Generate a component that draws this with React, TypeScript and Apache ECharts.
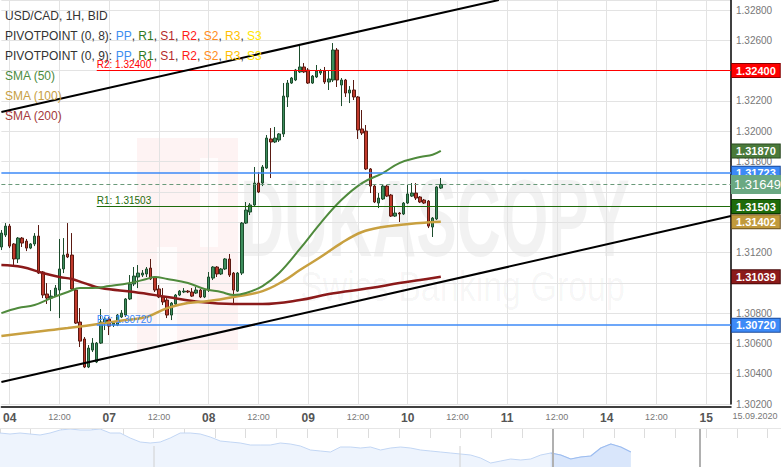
import React, { useEffect, useRef } from 'react';
import * as echarts from 'echarts';

const FONT = '"Liberation Sans", Arial, sans-serif';

// trading days shown on the axis (weekend skipped), hourly bars
const days = ['03', '04', '07', '08', '09', '10', '11', '14', '15'];
const lastDateLabel = '15.09.2020';

const categories: string[] = [];
for (const d of days) {
  const first = d === '03' ? 22 : 0;
  const last = d === '15' ? 6 : 23;
  for (let h = first; h <= last; h++) categories.push(d + ' ' + (h < 10 ? '0' : '') + h + ':00');
}
const lastIdx = categories.length - 1;

// [open, close, low, high]
const candles: number[][] = [
  [1.31236, 1.31328, 1.31216, 1.31348],
  [1.31315, 1.31374, 1.31302, 1.31394],
  [1.31374, 1.31242, 1.31229, 1.31388],
  [1.31256, 1.31157, 1.31117, 1.31262],
  [1.31157, 1.31295, 1.31130, 1.31302],
  [1.31295, 1.31262, 1.31236, 1.31302],
  [1.31275, 1.31229, 1.31209, 1.31289],
  [1.31229, 1.31256, 1.31222, 1.31262],
  [1.31256, 1.31308, 1.31242, 1.31328],
  [1.31308, 1.31064, 1.31058, 1.31381],
  [1.31071, 1.30919, 1.30899, 1.31077],
  [1.30926, 1.30899, 1.30860, 1.30998],
  [1.30899, 1.30912, 1.30813, 1.30952],
  [1.30912, 1.30965, 1.30906, 1.30985],
  [1.30952, 1.31091, 1.30767, 1.31289],
  [1.31091, 1.31183, 1.31064, 1.31295],
  [1.31190, 1.31170, 1.31163, 1.31394],
  [1.31183, 1.30959, 1.30952, 1.31328],
  [1.30952, 1.30734, 1.30728, 1.30959],
  [1.30741, 1.30615, 1.30576, 1.30833],
  [1.30629, 1.30444, 1.30437, 1.30642],
  [1.30444, 1.30569, 1.30437, 1.30589],
  [1.30556, 1.30602, 1.30543, 1.30635],
  [1.30477, 1.30602, 1.30470, 1.30609],
  [1.30602, 1.30741, 1.30596, 1.30827],
  [1.30734, 1.30761, 1.30688, 1.30774],
  [1.30761, 1.30714, 1.30655, 1.30774],
  [1.30721, 1.30734, 1.30708, 1.30747],
  [1.30721, 1.30787, 1.30714, 1.30794],
  [1.30774, 1.30800, 1.30767, 1.30820],
  [1.30787, 1.30893, 1.30774, 1.30899],
  [1.30893, 1.30992, 1.30886, 1.31051],
  [1.30992, 1.31044, 1.30978, 1.31104],
  [1.31038, 1.31064, 1.30965, 1.31117],
  [1.31051, 1.31064, 1.31038, 1.31084],
  [1.31058, 1.31091, 1.31038, 1.31104],
  [1.31097, 1.31025, 1.31018, 1.31157],
  [1.31038, 1.30952, 1.30939, 1.31044],
  [1.30959, 1.30906, 1.30899, 1.30985],
  [1.30906, 1.30873, 1.30853, 1.30965],
  [1.30886, 1.30787, 1.30767, 1.30899],
  [1.30787, 1.30866, 1.30754, 1.30873],
  [1.30860, 1.30919, 1.30853, 1.30926],
  [1.30919, 1.30945, 1.30912, 1.30952],
  [1.30939, 1.30945, 1.30932, 1.30965],
  [1.30945, 1.30939, 1.30932, 1.30952],
  [1.30939, 1.30912, 1.30906, 1.30965],
  [1.30932, 1.30952, 1.30926, 1.30972],
  [1.30952, 1.30906, 1.30899, 1.30959],
  [1.30906, 1.30952, 1.30899, 1.30965],
  [1.30952, 1.31038, 1.30939, 1.31071],
  [1.31031, 1.31104, 1.31018, 1.31110],
  [1.31104, 1.31058, 1.31038, 1.31110],
  [1.31058, 1.31091, 1.31051, 1.31097],
  [1.31091, 1.31157, 1.31084, 1.31163],
  [1.31157, 1.31051, 1.31038, 1.31190],
  [1.31064, 1.30952, 1.30860, 1.31071],
  [1.30945, 1.31064, 1.30939, 1.31071],
  [1.31064, 1.31394, 1.31051, 1.31401],
  [1.31394, 1.31480, 1.31388, 1.31533],
  [1.31467, 1.31513, 1.31447, 1.31526],
  [1.31513, 1.31658, 1.31506, 1.31764],
  [1.31658, 1.31599, 1.31592, 1.31731],
  [1.31658, 1.31764, 1.31638, 1.31777],
  [1.31757, 1.31955, 1.31751, 1.31975],
  [1.31949, 1.31929, 1.31691, 1.32021],
  [1.31929, 1.31955, 1.31922, 1.32028],
  [1.31942, 1.31982, 1.31929, 1.31988],
  [1.31982, 1.32232, 1.31962, 1.32318],
  [1.32226, 1.32318, 1.32160, 1.32338],
  [1.32318, 1.32351, 1.32312, 1.32358],
  [1.32338, 1.32404, 1.32331, 1.32411],
  [1.32391, 1.32424, 1.32384, 1.32569],
  [1.32424, 1.32391, 1.32384, 1.32450],
  [1.32404, 1.32318, 1.32312, 1.32417],
  [1.32318, 1.32364, 1.32312, 1.32371],
  [1.32358, 1.32397, 1.32351, 1.32437],
  [1.32384, 1.32397, 1.32371, 1.32411],
  [1.32397, 1.32325, 1.32312, 1.32424],
  [1.32325, 1.32345, 1.32272, 1.32404],
  [1.32338, 1.32536, 1.32325, 1.32582],
  [1.32536, 1.32338, 1.32292, 1.32549],
  [1.32305, 1.32338, 1.32166, 1.32351],
  [1.32338, 1.32252, 1.32226, 1.32345],
  [1.32252, 1.32272, 1.32186, 1.32298],
  [1.32272, 1.32226, 1.32206, 1.32338],
  [1.32226, 1.32008, 1.31949, 1.32232],
  [1.32015, 1.31988, 1.31975, 1.32140],
  [1.32001, 1.31751, 1.31744, 1.32041],
  [1.31751, 1.31638, 1.31592, 1.31757],
  [1.31638, 1.31533, 1.31526, 1.31645],
  [1.31526, 1.31559, 1.31493, 1.31592],
  [1.31553, 1.31638, 1.31546, 1.31645],
  [1.31638, 1.31572, 1.31566, 1.31645],
  [1.31579, 1.31440, 1.31434, 1.31586],
  [1.31440, 1.31460, 1.31434, 1.31500],
  [1.31460, 1.31454, 1.31401, 1.31467],
  [1.31454, 1.31526, 1.31447, 1.31533],
  [1.31526, 1.31586, 1.31520, 1.31645],
  [1.31572, 1.31592, 1.31566, 1.31658],
  [1.31592, 1.31559, 1.31546, 1.31658],
  [1.31566, 1.31533, 1.31526, 1.31572],
  [1.31546, 1.31526, 1.31520, 1.31553],
  [1.31539, 1.31374, 1.31361, 1.31546],
  [1.31368, 1.31427, 1.31302, 1.31434],
  [1.31421, 1.31632, 1.31414, 1.31638],
  [1.31625, 1.31649, 1.31619, 1.31691],
];

// moving averages: [bar index, value]
const sma50 = [
  [0, 1.308], [4, 1.30833], [8, 1.30853], [12, 1.30899], [16, 1.30939], [19, 1.30965], [22, 1.30965],
  [26, 1.30978], [31, 1.30998], [35, 1.31025], [37, 1.31038], [40, 1.31025], [45, 1.30998], [49, 1.30959],
  [53, 1.30939], [56, 1.30919], [59, 1.30932], [63, 1.30978], [67, 1.31064], [72, 1.31223], [77, 1.31394],
  [82, 1.31546], [87, 1.31658], [92, 1.31724], [96, 1.3179], [101, 1.3183], [104, 1.31845], [106, 1.3187],
];
const sma100 = [
  [0, 1.30648], [8, 1.30675], [16, 1.30701], [25, 1.30734], [30, 1.30754], [35, 1.30774], [40, 1.30833],
  [45, 1.30866], [50, 1.30879], [56, 1.30906], [63, 1.30945], [68, 1.31011], [72, 1.31084], [77, 1.3117],
  [82, 1.31262], [87, 1.31335], [92, 1.31368], [96, 1.31381], [101, 1.31394], [106, 1.31402],
];
const sma200 = [
  [0, 1.31117], [5, 1.31104], [10, 1.31064], [14, 1.31038], [17, 1.31025], [20, 1.30998], [24, 1.30965],
  [32, 1.30939], [40, 1.30906], [48, 1.30873], [56, 1.3086], [63, 1.3086], [72, 1.30886], [79, 1.30926],
  [89, 1.30965], [96, 1.30998], [101, 1.31018], [106, 1.31039],
];

// levels
const pivotStartIdx = 23;
const pivotR2 = 1.324;
const pivotR1 = 1.31503;
const pivotPP = 1.3072;
const blueLevel = 1.31723;
const lastPrice = 1.31649;
const sma50Last = 1.3187;
const sma100Last = 1.31402;
const sma200Last = 1.31039;

// trend lines: [bar index, price]
const upperTrend = [[0, 1.32127], [120, 1.32866]];
const lowerTrend = [[0, 1.30345], [176, 1.3144]];

// y axis
const yMin = 1.302;
const yMax = 1.32866;
const yStep = 0.002;
// tick labels hidden behind the price boxes
const coveredTicks = ['1.32400', '1.31600', '1.31400', '1.31000'];

// navigator (overview) levels, relative height
const navLevels = [
  34, 33, 34, 33, 32, 34, 37, 38, 37, 37, 38, 34, 34, 29, 25, 24, 25, 29, 34, 34, 33, 30, 26, 25, 24, 22,
  22, 22, 24, 23, 21, 17, 16, 15, 20, 20, 19, 20, 17, 19, 20, 19, 17, 16, 15, 14, 13, 12, 9, 4, 6, 8, 7,
  8, 12, 14, 12, 8, 10, 11, 19, 23, 20, 15,
];
const navSlots = 79;
const navSelectedFrom = 55;

const BLUE = '#3d8af7';

const boxLabel = (v: number, bg: string, border: string, big = false) => ({
  show: true,
  position: 'end',
  distance: 1,
  formatter: v.toFixed(5),
  backgroundColor: bg,
  borderColor: border,
  borderWidth: 1,
  color: '#fff',
  fontSize: big ? 13 : 11,
  fontWeight: big ? 'normal' : 'bold',
  fontFamily: FONT,
  padding: big ? [2, 1, 1, 2] : [1, 4, 0, 4],
  lineHeight: big ? 14 : 12,
});

// a price box on the axis (the level line itself is drawn by the levels series)
const boxOnly = (v: number, bg: string, border: string, big = false) => ({
  yAxis: v,
  lineStyle: { color: bg, width: 0, opacity: 1 },
  label: boxLabel(v, bg, border, big),
});

const pivotLine = (v: number, color: string, text: string, width = 1) => [
  {
    coord: [pivotStartIdx, v],
    lineStyle: { color, width, type: 'solid', opacity: 1 },
    label: { show: true, position: 'insideStartTop', formatter: text, color, fontSize: 10, fontFamily: FONT, distance: [0, 1] },
  },
  { coord: [lastIdx, v], lineStyle: { color, width, type: 'solid', opacity: 1 } },
];

const fullLevel = (v: number, color: string, type: any = 'solid', width = 1) => ({
  yAxis: v,
  lineStyle: { color, width, type, opacity: 1 },
  label: { show: false },
});

const trend = (pts: number[][]) => [
  { coord: pts[0], lineStyle: { color: '#000', width: 2, type: 'solid' }, label: { show: false } },
  { coord: pts[1], lineStyle: { color: '#000', width: 2, type: 'solid' } },
];

const legendRich = {
  k: { fill: '#333', color: '#333', fontSize: 12, fontFamily: FONT },
  pp: { fill: '#3d8ef0', color: '#3d8ef0', fontSize: 12, fontFamily: FONT },
  r1: { fill: '#2f7a1f', color: '#2f7a1f', fontSize: 12, fontFamily: FONT },
  s1: { fill: '#b52a2a', color: '#b52a2a', fontSize: 12, fontFamily: FONT },
  r2: { fill: '#ff1a1a', color: '#ff1a1a', fontSize: 12, fontFamily: FONT },
  s2: { fill: '#ff8c1a', color: '#ff8c1a', fontSize: 12, fontFamily: FONT },
  r3: { fill: '#ffbf00', color: '#ffbf00', fontSize: 12, fontFamily: FONT },
  s3: { fill: '#ffe600', color: '#ffe600', fontSize: 12, fontFamily: FONT },
};
const pivotText = (n: string) =>
  `{k|PIVOTPOINT (0, ${n}): }{pp|PP}{k|, }{r1|R1}{k|, }{s1|S1}{k|, }{r2|R2}{k|, }{s2|S2}{k|, }{r3|R3}{k|, }{s3|S3}`;

const legendText = (y: number, text: string, fill = '#333', rich?: any) => ({
  type: 'text',
  z: 100,
  style: { x: 5, y, text, fill, fontSize: 12, fontFamily: FONT, verticalAlign: 'middle', rich },
});

const isMajorTick = (i: number) => {
  const h = categories[i].slice(3, 5);
  return h === '00' || h === '12';
};

function buildOption(): any {
  const navCats: string[] = [];
  for (let i = 0; i < navSlots; i++) navCats.push(String(i));
  const navSelected = navLevels.map((v, i) => (i >= navSelectedFrom ? v : null));

  return {
    animation: false,
    backgroundColor: '#fff',
    grid: [
      { left: 0, right: 50, top: 0, bottom: 63 },
      { left: 0, right: 0, top: 429, bottom: 0 },
    ],
    xAxis: [
      {
        type: 'category',
        gridIndex: 0,
        data: categories,
        boundaryGap: false,
        offset: 3,
        axisLine: { lineStyle: { color: '#000', width: 1.5 } },
        axisTick: { show: false },
        axisLabel: {
          interval: (i: number) => isMajorTick(i),
          margin: 5,
          formatter: (v: string) => {
            const d = v.slice(0, 2);
            const h = v.slice(3);
            return h === '00:00' ? `{d|${d}}` : `{h|${h}}`;
          },
          rich: {
            d: { fontSize: 12, fontWeight: 'bold', color: '#555', fontFamily: FONT },
            h: { fontSize: 9, color: '#777', fontFamily: FONT },
          },
        },
        splitLine: { show: true, interval: (i: number) => isMajorTick(i), lineStyle: { color: '#e3e3e3', width: 1 } },
      },
      {
        type: 'category',
        gridIndex: 1,
        data: navCats,
        boundaryGap: false,
        show: false,
      },
      {
        type: 'value',
        gridIndex: 1,
        min: 0,
        max: 25.44,
        interval: 1,
        axisLine: { show: false },
        axisLabel: { show: false },
        splitLine: { show: false },
        axisTick: { show: true, inside: true, length: 9, lineStyle: { color: '#dcdcdc' } },
      },
    ],
    yAxis: [
      {
        type: 'value',
        gridIndex: 0,
        position: 'right',
        min: yMin,
        max: yMax,
        interval: yStep,
        axisLine: { show: true, lineStyle: { color: '#000', width: 1.5 } },
        axisTick: { show: false },
        axisLabel: {
          color: '#777',
          fontSize: 10,
          fontFamily: FONT,
          margin: 5,
          showMaxLabel: false,
          formatter: (v: number) => {
            const s = v.toFixed(5);
            return coveredTicks.indexOf(s) >= 0 || v > 1.3285 ? '' : s;
          },
        },
        splitLine: { show: true, lineStyle: { color: '#e3e3e3', width: 1 } },
      },
      { type: 'value', gridIndex: 1, min: 0, max: 38, show: false },
    ],
    graphic: [
      // watermark
      { type: 'rect', z: -5, shape: { x: 137, y: 138, width: 101, height: 212 }, style: { fill: 'rgba(235,90,90,0.07)' } },
      { type: 'rect', z: -4, shape: { x: 157, y: 247, width: 20, height: 103 }, style: { fill: 'rgba(255,255,255,0.75)' } },
      { type: 'rect', z: -4, shape: { x: 200, y: 158, width: 18, height: 89 }, style: { fill: 'rgba(255,255,255,0.75)' } },
      {
        type: 'text', z: -3, x: 240, y: 163, scaleY: 1.8,
        style: { x: 0, y: 0, text: 'DUKASCOPY', fill: 'rgba(0,0,0,0.05)', fontSize: 61, fontWeight: 'bold', fontFamily: FONT, verticalAlign: 'top' },
      },
      {
        type: 'text', z: -3, x: 300, y: 265, scaleY: 1.25,
        style: { x: 0, y: 0, text: 'Swiss Banking Group', fill: 'rgba(0,0,0,0.045)', fontSize: 34, fontFamily: FONT, verticalAlign: 'top' },
      },
      // legend
      legendText(16, 'USD/CAD, 1H, BID'),
      legendText(36, pivotText('8'), '#333', legendRich),
      legendText(56, pivotText('9'), '#333', legendRich),
      legendText(76, 'SMA (50)', '#4c8b3e'),
      legendText(96, 'SMA (100)', '#c8a045'),
      legendText(116, 'SMA (200)', '#a33a3a'),
      // bottom date
      {
        type: 'text', z: 50,
        style: { x: 755, y: 416, text: lastDateLabel, fill: '#777', fontSize: 9, fontFamily: FONT, align: 'center', verticalAlign: 'middle' },
      },
      // navigator frame
      { type: 'line', z: 50, shape: { x1: 0, y1: 428.5, x2: 781, y2: 428.5 }, style: { stroke: '#e6e6e6', lineWidth: 1 } },
      { type: 'line', z: 50, shape: { x1: 154, y1: 446, x2: 154, y2: 467 }, style: { stroke: '#d0d0d0', lineWidth: 1 } },
      { type: 'line', z: 50, shape: { x1: 460, y1: 446, x2: 460, y2: 467 }, style: { stroke: '#d0d0d0', lineWidth: 1 } },
      { type: 'line', z: 50, shape: { x1: 553, y1: 429, x2: 553, y2: 467 }, style: { stroke: '#b0b0b0', lineWidth: 2 } },
      { type: 'line', z: 50, shape: { x1: 700, y1: 429, x2: 700, y2: 467 }, style: { stroke: '#b0b0b0', lineWidth: 2 } },
    ],
    series: [
      {
        // level lines, carried by a plain (invisible) line series drawn under the candles
        type: 'line',
        xAxisIndex: 0,
        yAxisIndex: 0,
        data: sma200,
        showSymbol: false,
        lineStyle: { width: 0, opacity: 0 },
        itemStyle: { color: BLUE },
        z: 2,
        silent: true,
        markLine: {
          silent: true,
          symbol: ['none', 'none'],
          animation: false,
          precision: 5,
          label: { show: false },
          data: [
            pivotLine(pivotR2, '#ff0000', 'R2: 1.32400'),
            pivotLine(pivotR1, '#1e6b0a', 'R1: 1.31503'),
            pivotLine(pivotPP, BLUE, 'PP: 1.30720', 1.5),
            fullLevel(blueLevel, BLUE, 'solid', 1.5),
            fullLevel(lastPrice, '#6a9a7a', [4, 3]),
          ],
        },
      },
      {
        type: 'candlestick',
        xAxisIndex: 0,
        yAxisIndex: 0,
        data: candles,
        barWidth: 3,
        z: 3,
        itemStyle: {
          color: '#3c8d5c',
          color0: '#c0392b',
          borderColor: '#1d4d2d',
          borderColor0: '#5a1a12',
          borderWidth: 1,
        },
        markLine: {
          silent: true,
          symbol: ['none', 'none'],
          animation: false,
          precision: 5,
          label: { show: false },
          data: [
            trend(upperTrend),
            trend(lowerTrend),
            boxOnly(pivotR2, '#ff0000', '#8a0000'),
            boxOnly(sma50Last, '#4a7a3a', '#2a4a20'),
            boxOnly(blueLevel, BLUE, '#1a4a9a'),
            boxOnly(lastPrice, '#6aa882', '#6aa882', true),
            boxOnly(pivotR1, '#1e6b0a', '#0a3a00'),
            boxOnly(sma100Last, '#c19a3c', '#6a5020'),
            boxOnly(sma200Last, '#8b1a1a', '#4a0a0a'),
            boxOnly(pivotPP, BLUE, '#1a4a9a'),
          ],
        },
      },
      {
        type: 'line', xAxisIndex: 0, yAxisIndex: 0, data: sma200, showSymbol: false, smooth: 0.4, z: 4,
        lineStyle: { color: '#8b1a1a', width: 2.5 },
      },
      {
        type: 'line', xAxisIndex: 0, yAxisIndex: 0, data: sma100, showSymbol: false, smooth: 0.4, z: 4,
        lineStyle: { color: '#c8a040', width: 2.5 },
      },
      {
        type: 'line', xAxisIndex: 0, yAxisIndex: 0, data: sma50, showSymbol: false, smooth: 0.4, z: 4,
        lineStyle: { color: '#4f8a3c', width: 2 },
      },
      {
        type: 'line', xAxisIndex: 1, yAxisIndex: 1, data: navLevels, showSymbol: false, z: 2,
        lineStyle: { color: '#c2d6f4', width: 1 },
        areaStyle: { color: '#eef4fd', opacity: 1 },
      },
      {
        type: 'line', xAxisIndex: 1, yAxisIndex: 1, data: navSelected, showSymbol: false, z: 3,
        lineStyle: { color: '#9dbdf0', width: 1.2 },
        areaStyle: { color: '#d9e6fb', opacity: 1 },
      },
    ],
  };
}

export default function App() {
  const ref = useRef<HTMLDivElement>(null);
  useEffect(() => {
    if (!ref.current) return;
    const chart = echarts.init(ref.current, undefined, { renderer: 'svg' });
    chart.setOption(buildOption());
    return () => chart.dispose();
  }, []);
  return <div ref={ref} style={{ position: 'fixed', left: 0, top: 0, width: 781, height: 467, background: '#fff' }} />;
}
